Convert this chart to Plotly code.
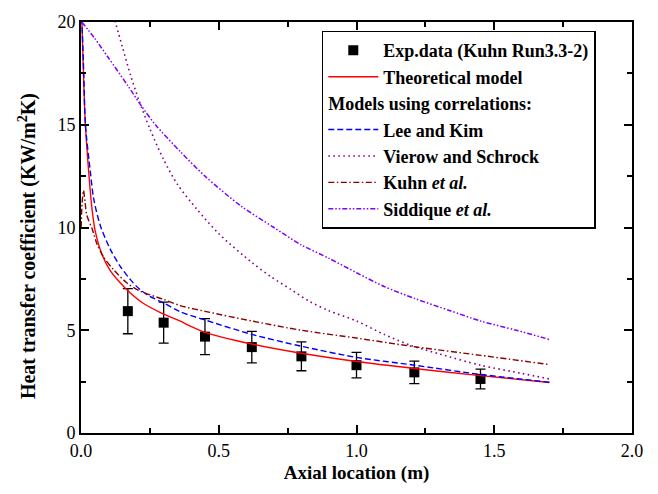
import plotly.graph_objects as go

# Experimental data (Kuhn Run3.3-2)
exp_x = [0.17, 0.30, 0.45, 0.62, 0.80, 1.00, 1.21, 1.45]
exp_y = [5.93, 5.37, 4.69, 4.18, 3.73, 3.30, 2.95, 2.63]
exp_err = [1.10, 1.00, 0.88, 0.77, 0.70, 0.62, 0.55, 0.48]

# Theoretical model
theo_x = [0.003, 0.010, 0.016, 0.028, 0.040, 0.052, 0.076, 0.106, 0.143, 0.180, 0.227, 0.290, 0.350, 0.450, 0.620, 0.800, 1.000, 1.210, 1.450, 1.700]
theo_y = [20.2, 17.0, 15.0, 12.7, 10.9, 9.8, 8.7, 7.9, 7.3, 6.8, 6.3, 5.85, 5.5, 4.9, 4.33, 3.88, 3.48, 3.14, 2.79, 2.46]

# Lee and Kim
lee_x = [0.003, 0.010, 0.016, 0.034, 0.046, 0.070, 0.106, 0.143, 0.180, 0.215, 0.250, 0.300, 0.360, 0.450, 0.620, 0.800, 1.000, 1.210, 1.450, 1.700]
lee_y = [20.2, 17.5, 15.0, 12.7, 11.4, 10.1, 8.95, 8.1, 7.45, 6.97, 6.65, 6.33, 5.9, 5.5, 4.8, 4.22, 3.68, 3.3, 2.85, 2.47]

# Vierow and Schrock
vie_x = [0.118, 0.150, 0.180, 0.210, 0.250, 0.300, 0.350, 0.420, 0.500, 0.620, 0.690, 0.760, 0.830, 0.900, 1.000, 1.100, 1.200, 1.300, 1.450, 1.600, 1.700]
vie_y = [20.3, 18.8, 17.4, 16.2, 14.8, 13.3, 12.1, 10.9, 9.7, 8.3, 7.6, 7.0, 6.4, 5.95, 5.45, 4.8, 4.25, 3.85, 3.30, 2.9, 2.63]

# Kuhn et al.
kuhn_x = [0.0005, 0.004, 0.009, 0.015, 0.021, 0.040, 0.058, 0.082, 0.120, 0.167, 0.215, 0.300, 0.360, 0.450, 0.620, 0.800, 1.000, 1.210, 1.450, 1.700]
kuhn_y = [10.0, 11.2, 11.8, 11.2, 10.6, 9.95, 9.2, 8.56, 7.92, 7.3, 6.9, 6.5, 6.2, 5.92, 5.45, 5.0, 4.62, 4.2, 3.78, 3.33]

# Siddique et al.
sid_x = [0.003, 0.050, 0.100, 0.170, 0.220, 0.270, 0.360, 0.450, 0.580, 0.700, 0.800, 0.900, 1.000, 1.100, 1.210, 1.340, 1.450, 1.580, 1.700]
sid_y = [20.0, 19.2, 18.25, 16.9, 15.9, 15.0, 13.7, 12.5, 11.05, 10.0, 9.15, 8.5, 7.8, 7.13, 6.55, 5.95, 5.45, 5.0, 4.55]

FONT = "Liberation Serif, Times New Roman, serif"
LEG = 18
TICK = 18
TITLE = 19

fig = go.Figure()

fig.add_trace(go.Scatter(
    x=exp_x, y=exp_y, mode="markers", name="Exp.data (Kuhn Run3.3-2)",
    marker=dict(symbol="square", size=10, color="black"),
    error_y=dict(type="data", array=exp_err, visible=True, color="black", thickness=1.3, width=5),
    legendgroup="a"))
fig.add_trace(go.Scatter(
    x=theo_x, y=theo_y, mode="lines", name="Theoretical model",
    line=dict(color="#FF0000", width=1.4, shape="spline", smoothing=0.8), legendgroup="a"))
fig.add_trace(go.Scatter(
    x=lee_x, y=lee_y, mode="lines", name="Lee and Kim",
    line=dict(color="#0000FF", width=1.4, dash="6px,3px", shape="spline", smoothing=0.8),
    legendgroup="b", legendgrouptitle=dict(text="Models using correlations:",
                                          font=dict(family=FONT, size=LEG, color="black", weight="bold"))))
fig.add_trace(go.Scatter(
    x=vie_x, y=vie_y, mode="lines", name="Vierow and Schrock",
    line=dict(color="#8B008B", width=1.6, dash="1.6px,3.4px", shape="spline", smoothing=0.8), legendgroup="b"))
fig.add_trace(go.Scatter(
    x=kuhn_x, y=kuhn_y, mode="lines", name="Kuhn <i>et al.</i>",
    line=dict(color="#8B0000", width=1.4, dash="6px,2.5px,1.5px,2.5px", shape="spline", smoothing=0.8), legendgroup="b"))
fig.add_trace(go.Scatter(
    x=sid_x, y=sid_y, mode="lines", name="Siddique <i>et al.</i>",
    line=dict(color="#8000FF", width=1.5, dash="5px,2px,1.5px,2px,1.5px,2px", shape="spline", smoothing=0.8), legendgroup="b"))

axis_common = dict(
    showline=True, linecolor="black", linewidth=2, mirror="allticks",
    ticks="inside", ticklen=8, tickwidth=1.5, tickcolor="black",
    showgrid=False, zeroline=False,
    tickfont=dict(family=FONT, size=TICK, color="black"),
)

fig.update_xaxes(range=[0, 2.0], dtick=0.5, tickformat=".1f",
                 minor=dict(dtick=0.25, ticks="inside", ticklen=5, tickwidth=1.5, tickcolor="black"),
                 title=dict(text="Axial location (m)", font=dict(family=FONT, size=TITLE, color="black", weight="bold"), standoff=6),
                 **axis_common)
fig.update_yaxes(range=[0, 20], dtick=5,
                 minor=dict(dtick=2.5, ticks="inside", ticklen=5, tickwidth=1.5, tickcolor="black"),
                 **axis_common)

fig.add_annotation(
    text="<b>Heat transfer coefficient (KW/m<sup>2</sup>K)</b>",
    xref="paper", yref="paper", x=-0.096, y=0.455, xanchor="center", yanchor="middle",
    textangle=-90, showarrow=False,
    font=dict(family=FONT, size=20, color="black"))

fig.update_layout(
    width=658, height=494,
    margin=dict(l=81, r=26, t=14, b=61),
    paper_bgcolor="white", plot_bgcolor="white",
    font=dict(family=FONT, size=TICK, color="black"),
    legend=dict(x=0.437, y=0.979, xanchor="left", yanchor="top",
                bordercolor="black", borderwidth=1.5, bgcolor="white",
                font=dict(family=FONT, size=LEG, color="black", weight="bold"),
                tracegroupgap=0, itemwidth=50, traceorder="grouped"),
    showlegend=True,
)

fig.write_html("out.html")
